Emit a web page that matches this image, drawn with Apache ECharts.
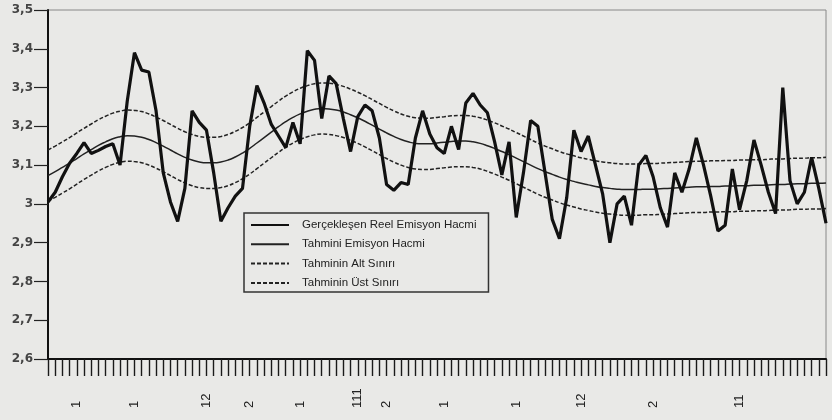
<!DOCTYPE html>
<html>
<head>
<meta charset="utf-8">
<script src="https://cdn.jsdelivr.net/npm/echarts@6/dist/echarts.min.js"></script>
<style>
  html, body { margin: 0; padding: 0; background: #e9e9e7; }
  #chart1 { width: 832px; height: 420px; }
</style>
</head>
<body>
<div id="chart1"></div>
<script>
// Gerçekleşen reel emisyon hacmi (aylık)
var actual = [
  3.005, 3.03, 3.07, 3.105, 3.13, 3.158, 3.13, 3.138, 3.148, 3.155,
  3.10, 3.265, 3.39, 3.345, 3.34, 3.24, 3.08, 3.005, 2.955, 3.04,
  3.24, 3.21, 3.19, 3.08, 2.955, 2.99, 3.02, 3.04, 3.2, 3.305,
  3.26, 3.205, 3.175, 3.145, 3.21, 3.155, 3.395, 3.37, 3.22, 3.33,
  3.31, 3.22, 3.135, 3.225, 3.255, 3.24, 3.17, 3.05, 3.035, 3.055,
  3.05, 3.17, 3.24, 3.18, 3.145, 3.13, 3.20, 3.14, 3.26, 3.285,
  3.255, 3.235, 3.16, 3.075, 3.16, 2.965, 3.08, 3.215, 3.2, 3.08,
  2.96, 2.91, 3.015, 3.19, 3.135, 3.175, 3.10, 3.025, 2.9, 3.0,
  3.02, 2.945, 3.10, 3.125, 3.07, 2.99, 2.94, 3.08, 3.03, 3.09,
  3.17, 3.10, 3.02, 2.93, 2.945, 3.09, 2.985, 3.06, 3.165, 3.10,
  3.03, 2.975, 3.30, 3.06, 3.0, 3.03, 3.12, 3.04, 2.95
];

// Tahmini emisyon hacmi
var forecast = [
  3.073, 3.083, 3.094, 3.105, 3.117, 3.129, 3.140, 3.151, 3.160, 3.168,
  3.173, 3.176, 3.175, 3.172, 3.166, 3.158, 3.149, 3.139, 3.129, 3.120,
  3.113, 3.108, 3.106, 3.106, 3.108, 3.113, 3.121, 3.131, 3.143, 3.157,
  3.171, 3.185, 3.199, 3.212, 3.223, 3.232, 3.239, 3.244, 3.246, 3.245,
  3.242, 3.237, 3.230, 3.222, 3.213, 3.203, 3.193, 3.183, 3.174, 3.166,
  3.160, 3.156, 3.155, 3.155, 3.157, 3.159, 3.161, 3.162, 3.162, 3.160,
  3.156, 3.150, 3.143, 3.135, 3.127, 3.118, 3.109, 3.100, 3.091, 3.083,
  3.076, 3.069, 3.063, 3.058, 3.053, 3.049, 3.045, 3.042, 3.040, 3.038,
  3.037, 3.037, 3.037, 3.038, 3.038, 3.039, 3.040, 3.041, 3.042, 3.043,
  3.044, 3.044, 3.045, 3.045, 3.046, 3.046, 3.047, 3.047, 3.048, 3.048,
  3.049, 3.050, 3.050, 3.051, 3.052, 3.052, 3.053, 3.053, 3.054
];

// Tahminin alt sınırı
var lower = [
  3.007, 3.017, 3.028, 3.039, 3.051, 3.063, 3.074, 3.085, 3.094, 3.102,
  3.107, 3.110, 3.109, 3.106, 3.100, 3.092, 3.083, 3.073, 3.063, 3.054,
  3.047, 3.042, 3.040, 3.040, 3.042, 3.047, 3.055, 3.065, 3.077, 3.091,
  3.105, 3.119, 3.133, 3.146, 3.157, 3.166, 3.173, 3.178, 3.180, 3.179,
  3.176, 3.171, 3.164, 3.156, 3.147, 3.137, 3.127, 3.117, 3.108, 3.100,
  3.094, 3.090, 3.089, 3.089, 3.091, 3.093, 3.095, 3.096, 3.096, 3.094,
  3.090, 3.084, 3.077, 3.069, 3.061, 3.052, 3.043, 3.034, 3.025, 3.017,
  3.010, 3.003, 2.997, 2.992, 2.987, 2.983, 2.979, 2.976, 2.974, 2.972,
  2.971, 2.971, 2.971, 2.972, 2.972, 2.973, 2.974, 2.975, 2.976, 2.977,
  2.978, 2.978, 2.979, 2.979, 2.980, 2.980, 2.981, 2.981, 2.982, 2.982,
  2.983, 2.984, 2.984, 2.985, 2.986, 2.986, 2.987, 2.987, 2.988
];

// Tahminin üst sınırı
var upper = [
  3.139, 3.149, 3.160, 3.171, 3.183, 3.195, 3.206, 3.217, 3.226, 3.234,
  3.239, 3.242, 3.241, 3.238, 3.232, 3.224, 3.215, 3.205, 3.195, 3.186,
  3.179, 3.174, 3.172, 3.172, 3.174, 3.179, 3.187, 3.197, 3.209, 3.223,
  3.237, 3.251, 3.265, 3.278, 3.289, 3.298, 3.305, 3.310, 3.312, 3.311,
  3.308, 3.303, 3.296, 3.288, 3.279, 3.269, 3.259, 3.249, 3.240, 3.232,
  3.226, 3.222, 3.221, 3.221, 3.223, 3.225, 3.227, 3.228, 3.228, 3.226,
  3.222, 3.216, 3.209, 3.201, 3.193, 3.184, 3.175, 3.166, 3.157, 3.149,
  3.142, 3.135, 3.129, 3.124, 3.119, 3.115, 3.111, 3.108, 3.106, 3.104,
  3.103, 3.103, 3.103, 3.104, 3.104, 3.105, 3.106, 3.107, 3.108, 3.109,
  3.110, 3.110, 3.111, 3.111, 3.112, 3.112, 3.113, 3.113, 3.114, 3.114,
  3.115, 3.116, 3.116, 3.117, 3.118, 3.118, 3.119, 3.119, 3.120
];

// x ekseni etiketleri (hangi ayda hangi yazı)
var labelIdx = [4, 12, 22, 28, 35, 43, 47, 55, 65, 74, 84, 96];
var labelText = ['1', '1', '12', '2', '1', '111', '2', '1', '1', '12', '2', '11'];

var categories = [];
for (var i = 0; i < actual.length; i++) categories.push(String(i));

var chartDom = document.getElementById('chart1');
var myChart = echarts.init(chartDom);
var option;

option = {
    animation: false,
    backgroundColor: '#e9e9e7',
    grid: {
        left: 48,
        right: 6,
        top: 10,
        bottom: 61,
        show: true,
        borderColor: '#888',
        borderWidth: 1
    },
    legend: {
        orient: 'vertical',
        left: 244,
        top: 213,
        padding: [6, 12, 3, 6],
        itemWidth: 38,
        itemHeight: 14,
        itemGap: 7.3,
        borderColor: '#333',
        borderWidth: 1.5,
        itemStyle: { opacity: 0 },
        textStyle: {
            fontFamily: 'Liberation Sans',
            fontSize: 11.5,
            color: '#222',
            padding: [0, 0, 0, 8]
        },
        data: ['Gerçekleşen Reel Emisyon Hacmi', 'Tahmini Emisyon Hacmi',
               'Tahminin Alt Sınırı', 'Tahminin Üst Sınırı']
    },
    xAxis: {
        type: 'category',
        boundaryGap: false,
        data: categories,
        axisLine: { lineStyle: { color: '#111', width: 2 } },
        axisTick: {
            interval: 0,
            length: 17,
            lineStyle: { color: '#1a1a1a', width: 1.4 }
        },
        axisLabel: {
            interval: function (idx) { return labelIdx.indexOf(idx) >= 0; },
            formatter: function (val, idx) {
                var k = labelIdx.indexOf(idx);
                return k >= 0 ? labelText[k] : '';
            },
            rotate: 90,
            align: 'left',
            margin: 49,
            fontFamily: 'Liberation Sans',
            fontSize: 13,
            color: '#222'
        },
        splitLine: { show: false }
    },
    yAxis: {
        type: 'value',
        min: 2.6,
        max: 3.5,
        interval: 0.1,
        axisLine: { show: true, lineStyle: { color: '#111', width: 2 } },
        axisTick: { show: true, length: 14, lineStyle: { color: '#222', width: 1.2 } },
        axisLabel: {
            margin: 15,
            fontFamily: 'DejaVu Sans',
            fontSize: 12,
            fontWeight: 'bold',
            color: '#444',
            formatter: function (v) {
                return String(Math.round(v * 10) / 10).replace('.', ',');
            }
        },
        splitLine: { show: false }
    },
    series: [
        {
            name: 'Gerçekleşen Reel Emisyon Hacmi',
            type: 'line',
            data: actual,
            symbol: 'none',
            z: 5,
            lineStyle: { color: '#111', width: 3.2 },
            itemStyle: { color: '#111' }
        },
        {
            name: 'Tahmini Emisyon Hacmi',
            type: 'line',
            data: forecast,
            symbol: 'none',
            smooth: true,
            lineStyle: { color: '#222', width: 1.5 },
            itemStyle: { color: '#222' }
        },
        {
            name: 'Tahminin Alt Sınırı',
            type: 'line',
            data: lower,
            symbol: 'none',
            smooth: true,
            lineStyle: { color: '#222', width: 1.5, type: [4, 2] },
            itemStyle: { color: '#222' }
        },
        {
            name: 'Tahminin Üst Sınırı',
            type: 'line',
            data: upper,
            symbol: 'none',
            smooth: true,
            lineStyle: { color: '#222', width: 1.5, type: [4, 2] },
            itemStyle: { color: '#222' }
        }
    ]
};

option && myChart.setOption(option);
</script>
</body>
</html>
